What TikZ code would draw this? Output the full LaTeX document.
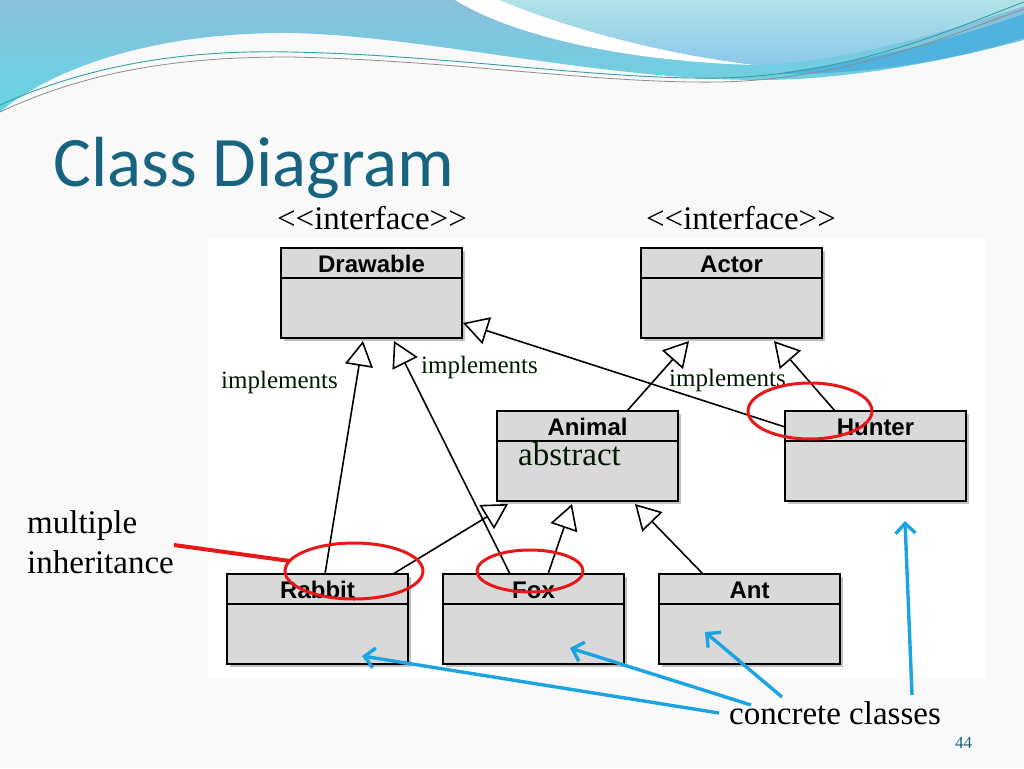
\documentclass[tikz,border=0pt]{standalone}
\usepackage{fontspec}
\setmainfont{Liberation Serif}
\newfontfamily\umlsans{Liberation Sans}
\newfontfamily\titlefont{Carlito}
\usetikzlibrary{arrows.meta,calc,shadows}
\definecolor{titleteal}{RGB}{24,100,128}
\definecolor{boxgray}{RGB}{217,217,217}
\definecolor{slidebg}{RGB}{249,249,249}
\definecolor{conblue}{RGB}{27,163,226}
\definecolor{markred}{RGB}{232,24,24}
\definecolor{waveA}{RGB}{138,190,219}
\definecolor{waveAb}{RGB}{100,214,228}
\definecolor{waveC}{RGB}{176,226,229}
\definecolor{waveCb}{RGB}{140,200,236}
\definecolor{waveband}{RGB}{80,178,222}
\definecolor{waveteal}{RGB}{50,160,165}
\definecolor{wavegray}{RGB}{140,140,140}
\newcommand{\umlclass}[4]{%
  \node[umlbox, anchor=north west] (#1) at (#2,#3) {};
  \node[umlname, anchor=base] (#1name) at ($(#1.north)+(0,24)$) {#4};
  \draw[umlline] ($(#1.north west)+(0,30)$) -- ($(#1.north east)+(0,30)$);
}
\tikzset{
  umlbox/.style={draw=black, line width=1.8pt, fill=boxgray, minimum width=181pt,
    minimum height=90pt, inner sep=0pt, outer sep=0pt,
    drop shadow={shadow xshift=3pt, shadow yshift=-3pt, opacity=0.4, fill=black!60}},
  umlname/.style={font=\umlsans\bfseries\fontsize{24}{28}\selectfont, inner sep=0pt},
  umlline/.style={line width=1.6pt},
  impl/.style={line width=1.6pt, -{Triangle[open, length=25pt, width=28pt, line width=1.6pt]}},
  serif33/.style={font=\fontsize{33}{40}\selectfont, inner sep=0pt, anchor=base west},
  implabel/.style={font=\fontsize{25}{30}\selectfont, inner sep=0pt, anchor=base west, text=black!90!green},
  redmark/.style={draw=markred, line width=3pt},
  conarrow/.style={draw=conblue, line width=3.4pt, -{Straight Barb[length=10pt, width=20pt]}}
}
\begin{document}
\begin{tikzpicture}[x=1pt,y=-1pt]
\useasboundingbox (0,0) rectangle (1024,768);
\fill[slidebg] (0,0) rectangle (1024,768);
% header waves
\shade[top color=waveA, bottom color=waveAb]
  (0,0) -- (1024,0) -- (1024,40) .. controls (950,60) and (850,80) .. (760,80)
  .. controls (600,80) and (420,35) .. (290,33) .. controls (150,32) and (50,70) .. (0,112) -- cycle;
\fill[waveband] (784,72) .. controls (880,60) and (980,30) .. (1024,14) -- (1024,38)
  .. controls (960,58) and (880,74) .. (784,74) -- cycle;
\fill[white] (455,0) .. controls (520,40) and (640,62) .. (755,65)
  .. controls (650,52) and (560,25) .. (500,0) -- cycle;
\shade[top color=waveC, bottom color=waveCb]
  (500,0) .. controls (560,25) and (650,52) .. (755,65) .. controls (850,62) and (950,30) .. (1024,6)
  -- (1024,0) -- cycle;
\draw[waveteal, line width=0.9pt] (0,105) .. controls (100,60) and (200,50) .. (290,52)
  .. controls (450,55) and (600,80) .. (720,78) .. controls (850,75) and (950,30) .. (1024,2);
\draw[wavegray, line width=0.8pt] (0,112) .. controls (100,65) and (200,57) .. (290,57)
  .. controls (450,60) and (600,84) .. (720,82) .. controls (850,79) and (950,35) .. (1024,9);
% title
\node[anchor=base west, inner sep=0pt, text=titleteal, font=\titlefont\fontsize{71}{76}\selectfont] (title) at (53,186) {Class Diagram};
% diagram area
\fill[white] (208,238) rectangle (985,678);
% classes
\umlclass{drawable}{281}{248}{Drawable}
\umlclass{actor}{641}{248}{Actor}
\umlclass{animal}{497}{411}{Animal}
\umlclass{hunter}{785}{411}{Hunter}
\umlclass{rabbit}{227}{574}{Rabbit}
\umlclass{fox}{443}{574}{Fox}
\umlclass{ant}{659}{574}{Ant}
% stereotypes
\node[font=\fontsize{33}{40}\selectfont, inner sep=0pt, anchor=base] (drawster) at (372,229) {<{}<interface>{}>};
\node[font=\fontsize{33}{40}\selectfont, inner sep=0pt, anchor=base] (actorster) at (741,229) {<{}<interface>{}>};
% generalisation / realisation
\draw[impl] ($(rabbit.north west)+(98,0)$) -- ($(drawable.south west)+(82,3)$);
\draw[impl] ($(fox.north west)+(67,0)$) -- ($(drawable.south west)+(113,3)$);
\draw[impl] ($(hunter.north west)+(0,16)$) -- ($(drawable.south east)+(1,-15)$);
\draw[impl] ($(animal.north west)+(130,0)$) -- ($(actor.south west)+(48,3)$);
\draw[impl] ($(hunter.north west)+(50,0)$) -- ($(actor.south west)+(133,3)$);
\draw[impl] ($(rabbit.north west)+(166,0)$) -- ($(animal.south west)+(11,3)$);
\draw[impl] ($(fox.north west)+(105,0)$) -- ($(animal.south west)+(75,3)$);
\draw[impl] ($(ant.north west)+(44,0)$) -- ($(animal.south west)+(138,3)$);
% labels
\node[implabel] (imp1) at (221,388) {implements};
\node[implabel] (imp2) at (421,373) {implements};
\node[implabel] (imp3) at (669,386) {implements};
\node[serif33, text=black!90!green] (abs) at (518,465) {abstract};
\node[serif33] (multi1) at (27,533) {multiple};
\node[serif33] (multi2) at (27,573) {inheritance};
\node[serif33] (concrete) at (729,724) {concrete classes};
\node[font=\fontsize{17}{20}\selectfont, text=titleteal, inner sep=0pt, anchor=base west] (pagenum) at (955,748) {44};
% red marks
\draw[redmark] (354,571) ellipse [x radius=69, y radius=28];
\draw[redmark] (530,571) ellipse [x radius=53, y radius=21];
\draw[redmark] (810,411) ellipse [x radius=62, y radius=28];
\coordinate (redstart) at (174,545);
\coordinate (redend) at (290,561);
\draw[markred, line width=4pt] (redstart) -- (redend);
% concrete arrows
\coordinate (c1) at (719,713);
\coordinate (c2) at (751,705);
\coordinate (c3) at (782,697);
\coordinate (c4) at (912,695);
\draw[conarrow] (c1) -- ($(rabbit.south west)+(135,-8)$);
\draw[conarrow] (c2) -- ($(fox.south west)+(127,-16)$);
\draw[conarrow] (c3) -- ($(ant.south west)+(46,-32)$);
\draw[conarrow] (c4) -- ($(hunter.south west)+(120,20)$);
\end{tikzpicture}
\end{document}
